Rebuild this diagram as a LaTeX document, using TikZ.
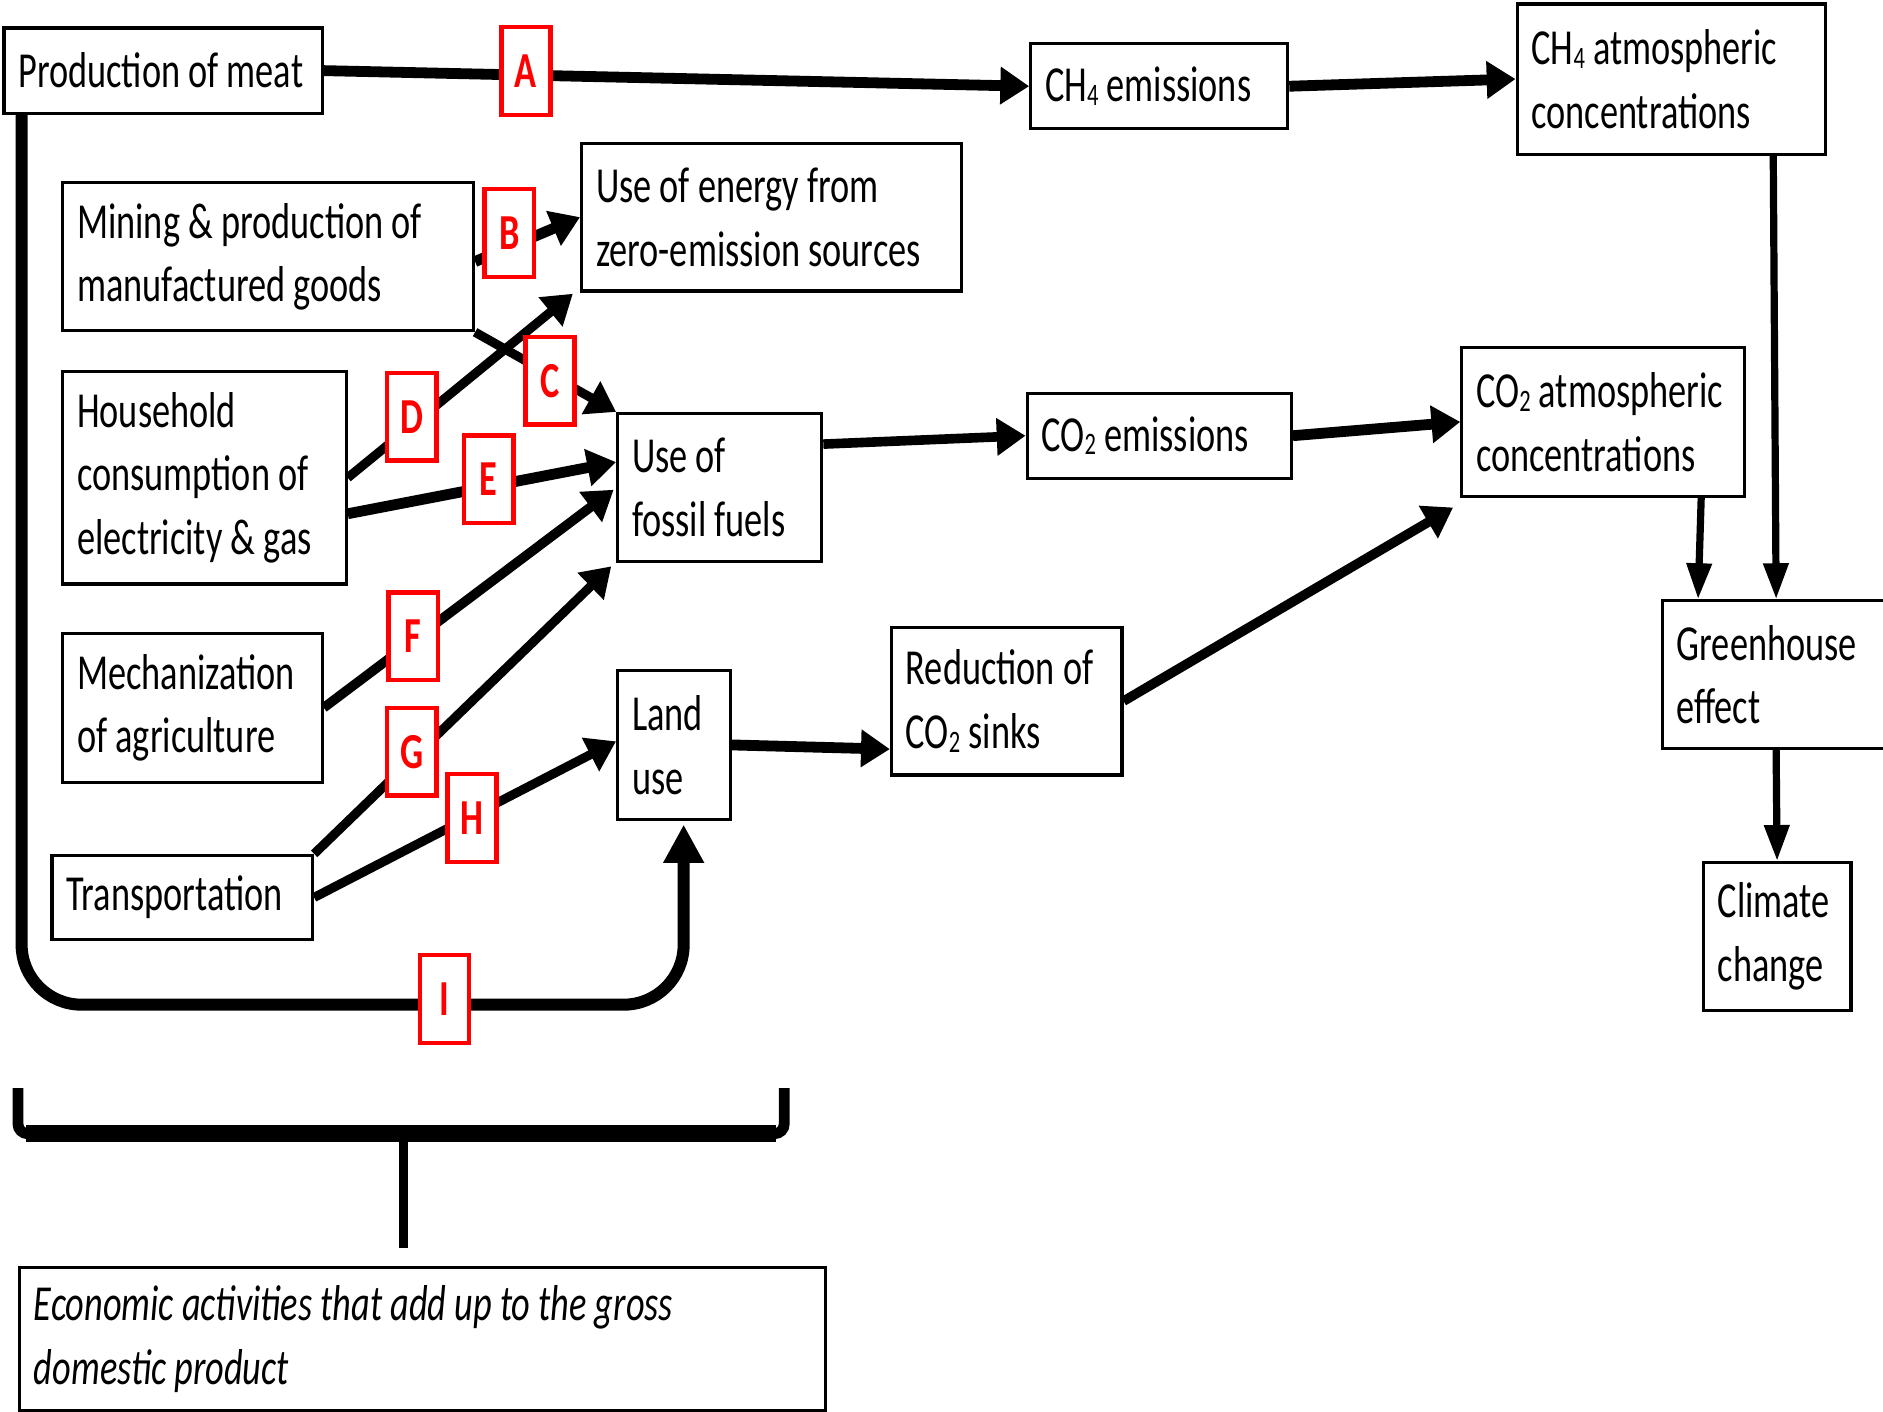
\documentclass[tikz,border=0pt]{standalone}
\usepackage{fontspec}
\setmainfont{Carlito}[FakeStretch=0.72]
\usetikzlibrary{arrows.meta,calc}
\newcommand\gsub[1]{\raisebox{-0.15ex}{\fontsize{13pt}{13pt}\selectfont #1}}
\newcommand\boxfont{\fontsize{21pt}{26.5pt}\selectfont\spaceskip=3.4pt plus 1pt minus 1pt\relax}
\begin{document}
\begin{tikzpicture}[x=0.5pt,y=-0.5pt,
  box/.style={draw, line width=1.3pt, fill=white, anchor=north west, align=flush left,
    inner xsep=6pt, inner ysep=0pt, font=\boxfont},
  lbl/.style={draw=red, line width=1.8pt, fill=white, text=red, minimum width=20.5pt,
    minimum height=36.5pt, inner sep=0pt, font=\fontsize{21pt}{26.5pt}\selectfont\bfseries},
  arr/.style={line width=4.5pt, -{Triangle[length=12pt,width=15pt]}},
  thinarr/.style={line width=3pt, -{Triangle[length=15pt,width=10pt]}},
]
\useasboundingbox (0,0) rectangle (1568,1175);

% boxes
\node[box, minimum width=132.5pt, minimum height=35.5pt, text width=120.5pt] (meat) at (2,22) {\mbox{Production of meat}};
\node[box, minimum width=171pt, minimum height=61.5pt, text width=159pt] (mining) at (51,151) {\mbox{Mining \& production of}\\\mbox{manufactured goods}};
\node[box, minimum width=158pt, minimum height=61.5pt, text width=146pt] (zero) at (483,118) {\mbox{Use of energy from}\\\mbox{zero-emission sources}};
\node[box, minimum width=118pt, minimum height=88.5pt, text width=106pt] (house) at (51,308) {\mbox{Household}\\\mbox{consumption of}\\\mbox{electricity \& gas}};
\node[box, minimum width=85pt, minimum height=61.5pt, text width=73pt] (fossil) at (513,343) {\mbox{Use of}\\\mbox{fossil fuels}};
\node[box, minimum width=108pt, minimum height=62pt, text width=96pt] (mech) at (51,526) {\mbox{Mechanization}\\\mbox{of agriculture}};
\node[box, minimum width=108.5pt, minimum height=35pt, text width=96.5pt] (trans) at (42,711) {\mbox{Transportation}};
\node[box, minimum width=47pt, minimum height=62pt, text width=35pt] (land) at (513,557) {\mbox{Land}\\\mbox{use}};
\node[box, minimum width=96pt, minimum height=61.5pt, text width=84pt] (red) at (741,521) {\mbox{Reduction of}\\\mbox{CO\gsub{2} sinks}};
\node[box, minimum width=107pt, minimum height=35.5pt, text width=95pt] (ch4e) at (857,35) {\mbox{CH\gsub{4} emissions}};
\node[box, minimum width=128.5pt, minimum height=62.5pt, text width=116.5pt] (ch4a) at (1262,2) {\mbox{CH\gsub{4} atmospheric}\\\mbox{concentrations}};
\node[box, minimum width=110pt, minimum height=35.5pt, text width=98pt] (co2e) at (854,326) {\mbox{CO\gsub{2} emissions}};
\node[box, minimum width=117.5pt, minimum height=62pt, text width=105.5pt] (co2a) at (1216,288) {\mbox{CO\gsub{2} atmospheric}\\\mbox{concentrations}};
\node[box, minimum width=100pt, minimum height=61.5pt, text width=88pt] (green) at (1383,499) {\mbox{Greenhouse}\\\mbox{effect}};
\node[box, minimum width=61.5pt, minimum height=61.5pt, text width=49.5pt] (climate) at (1417,717) {\mbox{Climate}\\\mbox{change}};
\node[box, minimum width=335.5pt, minimum height=59.5pt, text width=323.5pt, font=\boxfont\itshape] (econ) at (15,1054) {\mbox{Economic activities that add up to the gross}\\\mbox{domestic product}};

% connectors
\draw[arr] (meat.east) -- (ch4e.west);
\draw[arr] (ch4e.east) -- (ch4a.west);
\draw[arr] ($(mining.east)+(0,4)$) -- (zero.west);
\draw[arr, line width=3.8pt] (mining.south east) -- (fossil.north west);
\draw[arr, line width=3.8pt] (house.east) -- ($(zero.south west)+(-6,1)$);
\draw[arr] ($(house.east)+(0,30)$) -- ($(fossil.west)+(0,-21)$);
\draw[arr, line width=4pt] (mech.east) -- ($(fossil.west)+(-2,2)$);
\draw[arr, line width=3.8pt] (trans.north east) -- ($(fossil.south west)+(-4,3)$);
\draw[arr, line width=3.8pt] (trans.east) -- ($(land.west)+(0,-3)$);
\draw[line width=5pt, rounded corners=25pt, -{Triangle[length=16pt,width=16pt]}]
  ($(meat.south west)+(16,0)$) |- ($(land.south)+(8,153)$) -- ($(land.south)+(8,3)$);
\draw[arr, line width=4pt] ($(fossil.east)+(0,-36)$) -- (co2e.west);
\draw[arr] (co2e.east) -- (co2a.west);
\draw[arr] (land.east) -- ($(red.west)+(0,40)$);
\draw[arr, line width=4pt] (red.east) -- ($(co2a.south west)+(-6,8)$);
\draw[thinarr] ($(co2a.south east)+(-37,0)$) -- ($(green.north west)+(31,0)$);
\draw[thinarr] ($(ch4a.south east)+(-45,0)$) -- ($(green.north west)+(96,0)$);
\draw[thinarr] ($(green.south west)+(96,0)$) -- (climate.north);

% brace
\draw[line width=4.5pt, rounded corners=4pt] (15,906) -- (15,944) -- (653,944) -- (653,906);
\draw[line width=7pt] (22,944) -- (646,944);
\draw[line width=4pt] (336,944) -- ($(econ.north west)+(321,-15)$);

% labels
\node[lbl] (lA) at (438,59) {A};
\node[lbl] (lB) at (424,194) {B};
\node[lbl] (lC) at (458,317) {C};
\node[lbl] (lD) at (343,347) {D};
\node[lbl] (lE) at (407,399) {E};
\node[lbl] (lF) at (344,530) {F};
\node[lbl] (lG) at (343,626) {G};
\node[lbl] (lH) at (393,681) {H};
\node[lbl] (lI) at (370,832) {I};
\end{tikzpicture}
\end{document}
